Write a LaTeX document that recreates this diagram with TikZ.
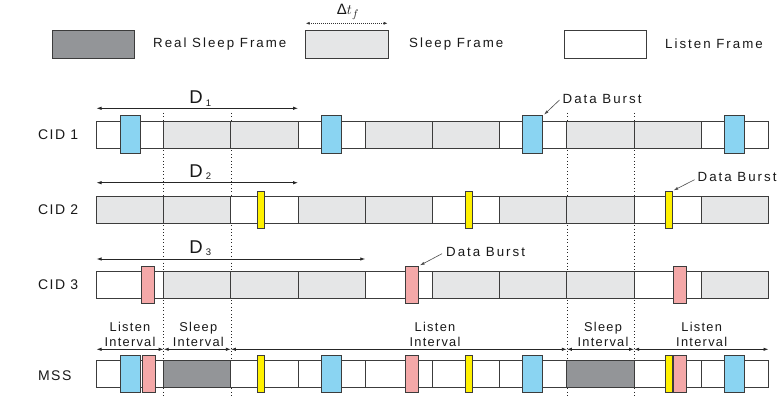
\documentclass[tikz,border=0pt]{standalone}
\usepackage{fontspec}
\setmainfont{Liberation Sans}
\newfontfamily\lsfont{Liberation Sans}[LetterSpace=15]
\newfontfamily\lsfontb{Liberation Sans}[LetterSpace=10]
\usetikzlibrary{arrows.meta}
\definecolor{fgray}{HTML}{E5E6E7}
\definecolor{dgray}{HTML}{939598}
\definecolor{bblue}{HTML}{8AD4F2}
\definecolor{bpink}{HTML}{F4A8A8}
\definecolor{byellow}{HTML}{FFF100}
\definecolor{edge}{HTML}{3C3C3C}
\tikzset{
  frame/.style={draw=edge, line width=0.9pt, minimum width=67.2pt, minimum height=27pt, inner sep=0pt, outer sep=0pt},
  legbox/.style={draw=edge, line width=0.9pt, minimum width=82.5pt, minimum height=28.3pt, inner sep=0pt, outer sep=0pt},
  bar/.style={draw=edge, line width=0.9pt, minimum height=37.5pt, inner sep=0pt, outer sep=0pt},
  bbar/.style={bar, fill=bblue, minimum width=20pt},
  pbar/.style={bar, fill=bpink, minimum width=12.5pt},
  ybar/.style={bar, fill=byellow, minimum width=6.5pt},
  txt/.style={font=\lsfont\fontsize{13.3}{15}\selectfont, inner sep=0pt, text=black!90},
  rowlbl/.style={font=\lsfontb\fontsize{14}{16}\selectfont, inner sep=0pt, anchor=west, text=black!90},
  itxt/.style={font=\lsfontb\fontsize{12.8}{15}\selectfont, inner sep=0pt, align=center, text=black!90},
  dtxt/.style={font=\fontsize{18.5}{20}\selectfont, inner sep=0pt, text=black!90},
  dsub/.style={font=\fontsize{9.5}{10}\selectfont, inner sep=0pt, text=black!90},
  dim/.style={draw=black!85, line width=0.8pt, arrows={Latex[length=5pt,width=3.4pt]-Latex[length=5pt,width=3.4pt]}},
  vline/.style={draw=black!85, line width=0.8pt, dash pattern=on 0.8pt off 2.6pt},
  burst/.style={draw=black!70, line width=0.6pt, -{Latex[length=4.5pt,width=3pt]}, shorten >=2pt},
}
\begin{document}
\begin{tikzpicture}[x=1pt, y=-1pt]
\useasboundingbox[fill=white] (0,0) rectangle (780,396);

% ---------- legend ----------
\node[legbox, fill=dgray] (legD) at (93.6,44.2) {};
\node[txt, anchor=west] (legDt) at (153,44.2) {Real Sleep Frame};
\node[legbox, fill=fgray] (legG) at (346.7,44.2) {};
\node[txt, anchor=west] (legGt) at (409,44.2) {Sleep Frame};
\node[legbox, fill=white] (legW) at (605.5,44.2) {};
\node[txt, anchor=west] (legWt) at (665,44.2) {Listen Frame};
\coordinate (dtl) at (305.7,23.3);
\coordinate (dtr) at (387.7,23.3);
\draw[draw=black!80, line width=0.7pt, dash pattern=on 0.7pt off 1.3pt,
      arrows={Latex[length=4pt,width=3pt]-Latex[length=4pt,width=3pt]}] (dtl) -- (dtr);
\node[inner sep=0pt, text=black!90] (dtf) at (348,12) {\fontsize{15}{16}\selectfont Δ$t_{f}$};

% ---------- dotted interval boundaries ----------
\foreach \xx [count=\k] in {163.7,230.9,566.9,634.1} {
  \coordinate (vt\k) at (\xx,113);
  \coordinate (vb\k) at (\xx,396);
  \draw[vline] (vt\k) -- (vb\k);
}

% ---------- rows ----------
\foreach \c [count=\i from 0] in {white,fgray,fgray,white,fgray,fgray,white,fgray,fgray,white}
  \node[frame, fill=\c] (a\i) at ({130.1+67.2*\i},134.7) {};
\foreach \c [count=\i from 0] in {fgray,fgray,white,fgray,fgray,white,fgray,fgray,white,fgray}
  \node[frame, fill=\c] (b\i) at ({130.1+67.2*\i},210) {};
\foreach \c [count=\i from 0] in {white,fgray,fgray,fgray,white,fgray,fgray,fgray,white,fgray}
  \node[frame, fill=\c] (c\i) at ({130.1+67.2*\i},285) {};
\foreach \c [count=\i from 0] in {white,dgray,white,white,white,white,white,dgray,white,white}
  \node[frame, fill=\c] (m\i) at ({130.1+67.2*\i},373.7) {};

% row labels
\node[rowlbl] (l1) at (38,134.7) {CID 1};
\node[rowlbl] (l2) at (38,210) {CID 2};
\node[rowlbl] (l3) at (38,285) {CID 3};
\node[rowlbl] (l4) at (38,376) {MSS};

% CID 1 bursts
\node[bbar] (ab1) at (130,134.7) {};
\node[bbar] (ab2) at (331.3,134.7) {};
\node[bbar] (ab3) at (532.7,134.7) {};
\node[bbar] (ab4) at (734,134.7) {};
% CID 2 bursts
\node[ybar] (by1) at (260.7,210) {};
\node[ybar] (by2) at (469,210) {};
\node[ybar] (by3) at (668.7,210) {};
% CID 3 bursts
\node[pbar] (cp1) at (147.9,285) {};
\node[pbar] (cp2) at (412,285) {};
\node[pbar] (cp3) at (680,285) {};
% MSS bursts
\node[bbar] (mb1) at (130,373.7) {};
\node[pbar] (mp1) at (149,373.7) {};
\node[ybar] (my1) at (260.7,373.7) {};
\node[bbar] (mb2) at (331.3,373.7) {};
\node[pbar] (mp2) at (412,373.7) {};
\node[ybar] (my2) at (469,373.7) {};
\node[bbar] (mb3) at (532.7,373.7) {};
\node[ybar] (my3) at (668.7,373.7) {};
\node[pbar] (mp3) at (680,373.7) {};
\node[bbar] (mb4) at (734,373.7) {};

% ---------- D arrows ----------
\coordinate (d1l) at (96.5,108.3);  \coordinate (d1r) at (298.1,108.3);
\coordinate (d2l) at (96.5,182.7);  \coordinate (d2r) at (298.1,182.7);
\coordinate (d3l) at (96.5,259);    \coordinate (d3r) at (365.3,259);
\draw[dim] (d1l) -- (d1r);
\draw[dim] (d2l) -- (d2r);
\draw[dim] (d3l) -- (d3r);
\node[dtxt] (D1) at (196,97.5) {D};   \node[dsub] (D1s) at (208.5,103) {1};
\node[dtxt] (D2) at (196,171) {D}; \node[dsub] (D2s) at (208.5,176.5) {2};
\node[dtxt] (D3) at (196,247) {D}; \node[dsub] (D3s) at (208.5,252.5) {3};

% ---------- Data Burst labels ----------
\node[txt, anchor=west] (db1) at (562.5,98.5) {Data Burst};
\node[txt, anchor=west] (db2) at (697.5,176.7) {Data Burst};
\node[txt, anchor=west] (db3) at (446,251.7) {Data Burst};
\draw[burst] (db1.west) ++(-3,1.5) -- (ab3.north east);
\draw[burst] (db2.west) ++(-3,3) -- (by3.north east);
\draw[burst] (db3.west) ++(-4,2) -- (cp2.north east);

% ---------- interval arrows ----------
\coordinate (i0) at (96.5,349.3);
\coordinate (i1) at (163.7,349.3);
\coordinate (i2) at (230.9,349.3);
\coordinate (i3) at (566.9,349.3);
\coordinate (i4) at (634.1,349.3);
\coordinate (i5) at (768.5,349.3);
\draw[dim] (i0) -- (i1);
\draw[dim] (i1) -- (i2);
\draw[dim] (i2) -- (i3);
\draw[dim] (i3) -- (i4);
\draw[dim] (i4) -- (i5);
\node[itxt] (t1) at (130,334) {Listen\\Interval};
\node[itxt] (t2) at (198.3,334) {Sleep\\Interval};
\node[itxt] (t3) at (435,334) {Listen\\Interval};
\node[itxt] (t4) at (603,334) {Sleep\\Interval};
\node[itxt] (t5) at (701.7,334) {Listen\\Interval};
\end{tikzpicture}
\end{document}
